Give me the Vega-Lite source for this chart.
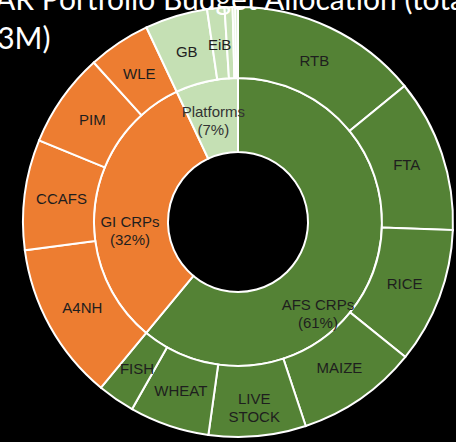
{
  "$schema": "https://vega.github.io/schema/vega-lite/v6.json",
  "width": 436,
  "height": 440,
  "autosize": {"type": "none"},
  "padding": {"left": 20, "top": 2, "right": 0, "bottom": 0},
  "background": "black",
  "config": {"view": {"stroke": null}},
  "title": {
    "text": ["CGIAR Portfolio Budget Allocation (total", "$853M)"],
    "anchor": "start",
    "frame": "group",
    "orient": "top",
    "offset": 0,
    "baseline": "alphabetic",
    "font": "Lato",
    "fontSize": 30,
    "fontWeight": "normal",
    "lineHeight": 39,
    "color": "white",
    "dx": -75,
    "dy": 77
  },
  "datasets": {
    "inner": [
      {"group": "AFS", "label": "AFS CRPs\n(61%)", "value": 61, "order": 1},
      {"group": "GI", "label": "GI CRPs\n(32%)", "value": 32, "order": 2},
      {"group": "Platforms", "label": "Platforms\n(7%)", "value": 7, "order": 3}
    ],
    "outer": [
      {"group": "AFS", "label": "RTB", "value": 14.1, "order": 1},
      {"group": "AFS", "label": "FTA", "value": 11.5, "order": 2},
      {"group": "AFS", "label": "RICE", "value": 10.2, "order": 3},
      {"group": "AFS", "label": "MAIZE", "value": 9.1, "order": 4},
      {"group": "AFS", "label": "LIVE\nSTOCK", "value": 7.3, "order": 5},
      {"group": "AFS", "label": "WHEAT", "value": 6.0, "order": 6},
      {"group": "AFS", "label": "FISH", "value": 2.8, "order": 7},
      {"group": "GI", "label": "A4NH", "value": 11.9, "order": 8},
      {"group": "GI", "label": "CCAFS", "value": 8.3, "order": 9},
      {"group": "GI", "label": "PIM", "value": 7.1, "order": 10},
      {"group": "GI", "label": "WLE", "value": 4.7, "order": 11},
      {"group": "Platforms", "label": "GB", "value": 4.7, "order": 12},
      {"group": "Platforms", "label": "EiB", "value": 1.3, "order": 13},
      {"group": "Platforms", "label": "", "value": 0.6, "order": 14},
      {"group": "Platforms", "label": "", "value": 0.2, "order": 15},
      {"group": "Platforms", "label": "", "value": 0.2, "order": 16}
    ]
  },
  "encoding": {
    "theta": {"field": "value", "type": "quantitative", "stack": true},
    "order": {"field": "order", "type": "quantitative"},
    "color": {
      "field": "group",
      "type": "nominal",
      "scale": {"domain": ["AFS", "GI", "Platforms"], "range": ["#548235", "#ED7D31", "#C5E0B4"]},
      "legend": null
    }
  },
  "layer": [
    {
      "data": {"name": "inner"},
      "mark": {"type": "arc", "radius": 144, "radius2": 70, "stroke": "white", "strokeWidth": 2}
    },
    {
      "data": {"name": "outer"},
      "mark": {"type": "arc", "radius": 215, "radius2": 144, "stroke": "white", "strokeWidth": 2}
    },
    {
      "data": {"name": "outer"},
      "mark": {"type": "text", "radius": 178, "font": "Liberation Sans", "fontSize": 15, "lineBreak": "\n", "lineHeight": 18},
      "encoding": {"text": {"field": "label"}, "color": {"value": "#1e1e1e"}}
    },
    {
      "data": {"name": "inner"},
      "mark": {"type": "text", "radius": 115, "thetaOffset": 0.457, "font": "Liberation Sans", "fontSize": 15, "lineBreak": "\n", "lineHeight": 18},
      "encoding": {"text": {"condition": {"test": "datum.group === 'AFS'", "field": "label"}, "value": ""}, "color": {"value": "#1e1e1e"}}
    },
    {
      "data": {"name": "inner"},
      "mark": {"type": "text", "radius": 108, "thetaOffset": -0.126, "font": "Liberation Sans", "fontSize": 15, "lineBreak": "\n", "lineHeight": 18},
      "encoding": {"text": {"condition": {"test": "datum.group === 'GI'", "field": "label"}, "value": ""}, "color": {"value": "#1e1e1e"}}
    },
    {
      "data": {"name": "inner"},
      "mark": {"type": "text", "radius": 113, "font": "Liberation Sans", "fontSize": 15, "lineBreak": "\n", "lineHeight": 18},
      "encoding": {"text": {"condition": {"test": "datum.group === 'Platforms'", "field": "label"}, "value": ""}, "color": {"value": "#333333"}}
    }
  ]
}
